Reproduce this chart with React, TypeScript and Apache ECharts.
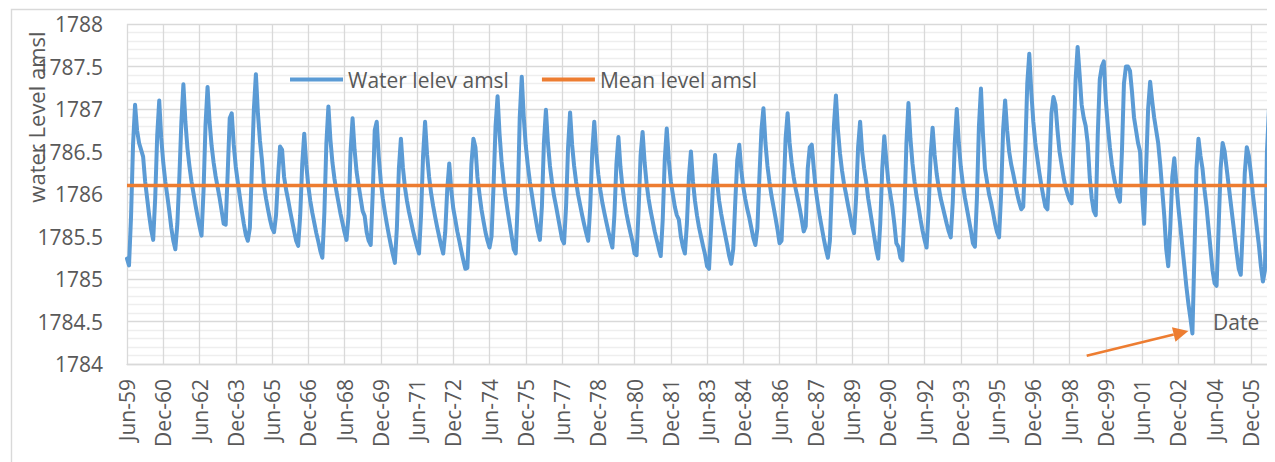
import React, { useEffect, useRef } from "react";
import * as echarts from "echarts";

// Monthly water level (m amsl), Jun-1959 .. Dec-2006, one line per year (Jan..Dec)
const waterLevel: number[] = [
  /* 1959 Jun-Dec */ 1785.24, 1785.16, 1785.73, 1786.58, 1787.05, 1786.75, 1786.6,
  /* 1960 */ 1786.52, 1786.44, 1786.15, 1785.95, 1785.75, 1785.58, 1785.46, 1785.95, 1786.69, 1787.10, 1786.66, 1786.37,
  /* 1961 */ 1786.15, 1785.98, 1785.8, 1785.6, 1785.45, 1785.35, 1785.65, 1786.2, 1786.85, 1787.29, 1786.85, 1786.54,
  /* 1962 */ 1786.33, 1786.15, 1786.01, 1785.87, 1785.74, 1785.62, 1785.51, 1786.04, 1786.82, 1787.26, 1786.85, 1786.57,
  /* 1963 */ 1786.37, 1786.21, 1786.08, 1785.95, 1785.8, 1785.65, 1785.64, 1786.25, 1786.89, 1786.95, 1786.58, 1786.32,
  /* 1964 */ 1786.14, 1785.97, 1785.8, 1785.65, 1785.52, 1785.45, 1785.6, 1786.3, 1787.0, 1787.41, 1786.95, 1786.63,
  /* 1965 */ 1786.4, 1786.1, 1785.95, 1785.82, 1785.7, 1785.6, 1785.55, 1785.75, 1786.2, 1786.56, 1786.52, 1786.2,
  /* 1966 */ 1786.05, 1785.93, 1785.8, 1785.68, 1785.56, 1785.45, 1785.39, 1785.75, 1786.35, 1786.71, 1786.35, 1786.1,
  /* 1967 */ 1785.92, 1785.78, 1785.66, 1785.54, 1785.44, 1785.33, 1785.25, 1785.78, 1786.6, 1787.03, 1786.64, 1786.37,
  /* 1968 */ 1786.18, 1786.03, 1785.9, 1785.77, 1785.66, 1785.55, 1785.46, 1785.75, 1786.5, 1786.89, 1786.52, 1786.26,
  /* 1969 */ 1786.1, 1785.95, 1785.8, 1785.74, 1785.55, 1785.45, 1785.4, 1786.0, 1786.75, 1786.85, 1786.44, 1786.15,
  /* 1970 */ 1785.95, 1785.79, 1785.65, 1785.52, 1785.4, 1785.29, 1785.19, 1785.6, 1786.3, 1786.65, 1786.31, 1786.08,
  /* 1971 */ 1785.92, 1785.79, 1785.68, 1785.57, 1785.47, 1785.38, 1785.3, 1785.75, 1786.45, 1786.85, 1786.46, 1786.2,
  /* 1972 */ 1786.01, 1785.86, 1785.73, 1785.61, 1785.5, 1785.39, 1785.3, 1785.55, 1786.05, 1786.36, 1786.05, 1785.83,
  /* 1973 */ 1785.7, 1785.56, 1785.45, 1785.33, 1785.22, 1785.12, 1785.13, 1785.7, 1786.35, 1786.65, 1786.55, 1786.2,
  /* 1974 */ 1786.0, 1785.82, 1785.68, 1785.55, 1785.45, 1785.37, 1785.5, 1786.1, 1786.8, 1787.15, 1786.7, 1786.38,
  /* 1975 */ 1786.15, 1785.96, 1785.8, 1785.65, 1785.5, 1785.35, 1785.3, 1785.9, 1786.9, 1787.38, 1786.9, 1786.57,
  /* 1976 */ 1786.34, 1786.15, 1786.0, 1785.84, 1785.7, 1785.56, 1785.46, 1785.85, 1786.6, 1786.99, 1786.6, 1786.33,
  /* 1977 */ 1786.14, 1785.98, 1785.86, 1785.73, 1785.6, 1785.47, 1785.42, 1785.85, 1786.55, 1786.96, 1786.58, 1786.33,
  /* 1978 */ 1786.14, 1785.99, 1785.87, 1785.75, 1785.64, 1785.54, 1785.45, 1785.85, 1786.5, 1786.85, 1786.48, 1786.23,
  /* 1979 */ 1786.05, 1785.9, 1785.78, 1785.67, 1785.56, 1785.46, 1785.37, 1785.75, 1786.35, 1786.67, 1786.32, 1786.08,
  /* 1980 */ 1785.91, 1785.77, 1785.65, 1785.54, 1785.44, 1785.3, 1785.28, 1785.8, 1786.45, 1786.73, 1786.37, 1786.12,
  /* 1981 */ 1785.94, 1785.8, 1785.68, 1785.56, 1785.46, 1785.36, 1785.27, 1785.7, 1786.4, 1786.77, 1786.4, 1786.15,
  /* 1982 */ 1786.0, 1785.85, 1785.75, 1785.7, 1785.5, 1785.38, 1785.3, 1785.65, 1786.2, 1786.5, 1786.15, 1785.92,
  /* 1983 */ 1785.75, 1785.61, 1785.5, 1785.39, 1785.29, 1785.15, 1785.12, 1785.6, 1786.15, 1786.46, 1786.14, 1785.92,
  /* 1984 */ 1785.77, 1785.64, 1785.52, 1785.4, 1785.27, 1785.18, 1785.35, 1785.9, 1786.4, 1786.58, 1786.28, 1786.08,
  /* 1985 */ 1785.94, 1785.82, 1785.72, 1785.6, 1785.48, 1785.4, 1785.6, 1786.2, 1786.75, 1787.01, 1786.6, 1786.33,
  /* 1986 */ 1786.14, 1785.98, 1785.85, 1785.72, 1785.58, 1785.42, 1785.45, 1786.0, 1786.65, 1786.95, 1786.6, 1786.37,
  /* 1987 */ 1786.2, 1786.06, 1785.95, 1785.83, 1785.7, 1785.56, 1785.62, 1786.3, 1786.55, 1786.58, 1786.3, 1786.05,
  /* 1988 */ 1785.88, 1785.73, 1785.6, 1785.47, 1785.35, 1785.25, 1785.45, 1786.1, 1786.8, 1787.16, 1786.75, 1786.48,
  /* 1989 */ 1786.28, 1786.12, 1786.0, 1785.87, 1785.75, 1785.62, 1785.54, 1785.95, 1786.55, 1786.85, 1786.5, 1786.3,
  /* 1990 */ 1786.15, 1785.95, 1785.8, 1785.65, 1785.5, 1785.35, 1785.24, 1785.65, 1786.3, 1786.68, 1786.4, 1786.15,
  /* 1991 */ 1786.0, 1785.85, 1785.65, 1785.42, 1785.38, 1785.25, 1785.22, 1785.8, 1786.6, 1787.07, 1786.65, 1786.36,
  /* 1992 */ 1786.15, 1785.98, 1785.85, 1785.7, 1785.57, 1785.46, 1785.37, 1785.8, 1786.45, 1786.78, 1786.46, 1786.24,
  /* 1993 */ 1786.08, 1785.95, 1785.85, 1785.75, 1785.65, 1785.56, 1785.49, 1785.9, 1786.6, 1787.0, 1786.6, 1786.32,
  /* 1994 */ 1786.12, 1785.96, 1785.83, 1785.7, 1785.57, 1785.42, 1785.38, 1785.95, 1786.8, 1787.24, 1786.7, 1786.3,
  /* 1995 */ 1786.15, 1786.0, 1785.9, 1785.78, 1785.65, 1785.55, 1785.49, 1786.0, 1786.75, 1787.1, 1786.75, 1786.5,
  /* 1996 */ 1786.35, 1786.24, 1786.12, 1786.0, 1785.9, 1785.82, 1785.85, 1786.5, 1787.3, 1787.65, 1787.2, 1786.85,
  /* 1997 */ 1786.6, 1786.42, 1786.25, 1786.1, 1785.97, 1785.85, 1785.82, 1786.3, 1786.95, 1787.14, 1787.05, 1786.75,
  /* 1998 */ 1786.5, 1786.35, 1786.2, 1786.08, 1786.0, 1785.93, 1785.89, 1786.6, 1787.35, 1787.73, 1787.4, 1787.05,
  /* 1999 */ 1786.9, 1786.8, 1786.6, 1786.2, 1785.95, 1785.8, 1785.75, 1786.7, 1787.35, 1787.5, 1787.56, 1787.1,
  /* 2000 */ 1786.8, 1786.55, 1786.35, 1786.2, 1786.08, 1785.97, 1785.91, 1786.5, 1787.3, 1787.5, 1787.5, 1787.45,
  /* 2001 */ 1787.2, 1786.9, 1786.75, 1786.6, 1786.5, 1786.0, 1785.65, 1786.3, 1787.0, 1787.32, 1787.1, 1786.9,
  /* 2002 */ 1786.75, 1786.6, 1786.35, 1786.05, 1785.75, 1785.35, 1785.15, 1785.6, 1786.2, 1786.42, 1786.13, 1785.85,
  /* 2003 */ 1785.62, 1785.38, 1785.15, 1784.91, 1784.71, 1784.54, 1784.36, 1785.3, 1786.3, 1786.65, 1786.45, 1786.3,
  /* 2004 */ 1786.05, 1785.85, 1785.6, 1785.35, 1785.1, 1784.95, 1784.92, 1785.6, 1786.3, 1786.6, 1786.5, 1786.3,
  /* 2005 */ 1786.1, 1785.9, 1785.7, 1785.5, 1785.3, 1785.12, 1785.05, 1785.6, 1786.25, 1786.55, 1786.45, 1786.25,
  /* 2006 */ 1786.0, 1785.8, 1785.6, 1785.4, 1785.15, 1784.97, 1785.1, 1786.5, 1787.0, 1787.11, 1787.05, 1786.81,
];

const meanLevel = 1786.1;
const monthNames = ["Jan", "Feb", "Mar", "Apr", "May", "Jun", "Jul", "Aug", "Sep", "Oct", "Nov", "Dec"];
const startYear = 1959;
const startMonth = 5; // June
const seriesNames = ["Water lelev amsl", "Mean level amsl"];
const yAxisTitle = "water Level amsl";
const xAxisTitle = "Date";
const yMin = 1784;
const yMax = 1788;
const yStep = 0.5;

const categories = waterLevel.map((_, i) => {
  const m = startMonth + i;
  const yr = (startYear + Math.floor(m / 12)) % 100;
  return monthNames[m % 12] + "-" + String(yr).padStart(2, "0");
});

const FONT = "'Open Sans', 'Noto Sans', sans-serif";
const TEXT = "#595959";

export default function App() {
  const ref = useRef<HTMLDivElement>(null);
  useEffect(() => {
    if (!ref.current) return;
    const chart = echarts.init(ref.current, undefined, { renderer: "svg" });
    // arrow geometry (annotation)
    const ax0 = 1078.7, ay0 = 347.7, ax1 = 1180.3, ay1 = 323;
    const dx = ax1 - ax0, dy = ay1 - ay0;
    const len = Math.sqrt(dx * dx + dy * dy);
    const ux = dx / len, uy = dy / len;
    const nx = -uy, ny = ux;
    const hl = 15, hw = 7.5;
    const bx = ax1 - hl * ux, by = ay1 - hl * uy;
    chart.setOption({
      animation: false,
      textStyle: { fontFamily: FONT },
      grid: { left: 119, right: 0, top: 16, bottom: 98, containLabel: false },
      legend: {
        left: 277,
        top: 56,
        itemWidth: 53,
        itemHeight: 4,
        itemGap: 33,
        icon: "rect",
        textStyle: { fontSize: 21, color: TEXT, fontFamily: FONT },
        data: seriesNames,
      },
      xAxis: {
        type: "category",
        data: categories,
        boundaryGap: false,
        axisLine: { lineStyle: { color: "#d9d9d9", width: 1.3 } },
        axisTick: { show: false },
        axisLabel: {
          interval: 17,
          rotate: 90,
          margin: 15,
          fontSize: 21,
          color: TEXT,
          fontFamily: FONT,
        },
        splitLine: { show: true, interval: 17, lineStyle: { color: "#d9d9d9", width: 1.3 } },
      },
      yAxis: {
        type: "value",
        min: yMin,
        max: yMax,
        interval: yStep,
        axisLine: { show: false },
        axisTick: { show: false },
        axisLabel: {
          margin: 24,
          fontSize: 21,
          color: TEXT,
          fontFamily: FONT,
          formatter: (v: number) => String(v),
        },
        splitLine: { lineStyle: { color: "#d9d9d9", width: 1.3 } },
        minorTick: { show: false, splitNumber: 5 },
        minorSplitLine: { show: true, lineStyle: { color: "#eeeeee", width: 1.3 } },
      },
      series: [
        {
          name: seriesNames[0],
          type: "line",
          data: waterLevel,
          showSymbol: false,
          symbol: "none",
          lineStyle: { color: "#5B9BD5", width: 4, cap: "round", join: "round" },
          itemStyle: { color: "#5B9BD5" },
          z: 2,
        },
        {
          name: seriesNames[1],
          type: "line",
          data: categories.map(() => meanLevel),
          showSymbol: false,
          symbol: "none",
          lineStyle: { color: "#ED7D31", width: 3.6 },
          itemStyle: { color: "#ED7D31" },
          z: 3,
        },
      ],
      graphic: [
        {
          type: "rect",
          shape: { x: 3.5, y: 1.5, width: 1400, height: 600 },
          style: { fill: "none", stroke: "#d9d9d9", lineWidth: 1.4 },
          silent: true,
          z: 0,
        },
        {
          type: "text",
          x: 28,
          y: 109,
          rotation: Math.PI / 2,
          style: {
            text: yAxisTitle,
            fontSize: 22,
            fontFamily: FONT,
            fill: TEXT,
            align: "center",
            verticalAlign: "middle",
          },
          z: 10,
        },
        {
          type: "text",
          x: 1205,
          y: 314,
          style: {
            text: xAxisTitle,
            fontSize: 21,
            fontFamily: FONT,
            fill: TEXT,
            align: "left",
            verticalAlign: "middle",
          },
          z: 10,
        },
        {
          type: "line",
          shape: { x1: ax0, y1: ay0, x2: bx, y2: by },
          style: { stroke: "#ED7D31", lineWidth: 2.6 },
          z: 10,
        },
        {
          type: "polygon",
          shape: {
            points: [
              [ax1, ay1],
              [bx + hw * nx, by + hw * ny],
              [bx - hw * nx, by - hw * ny],
            ],
          },
          style: { fill: "#ED7D31" },
          z: 10,
        },
      ],
    });
    return () => chart.dispose();
  }, []);
  return <div ref={ref} style={{ width: 1267, height: 454 }} />;
}
